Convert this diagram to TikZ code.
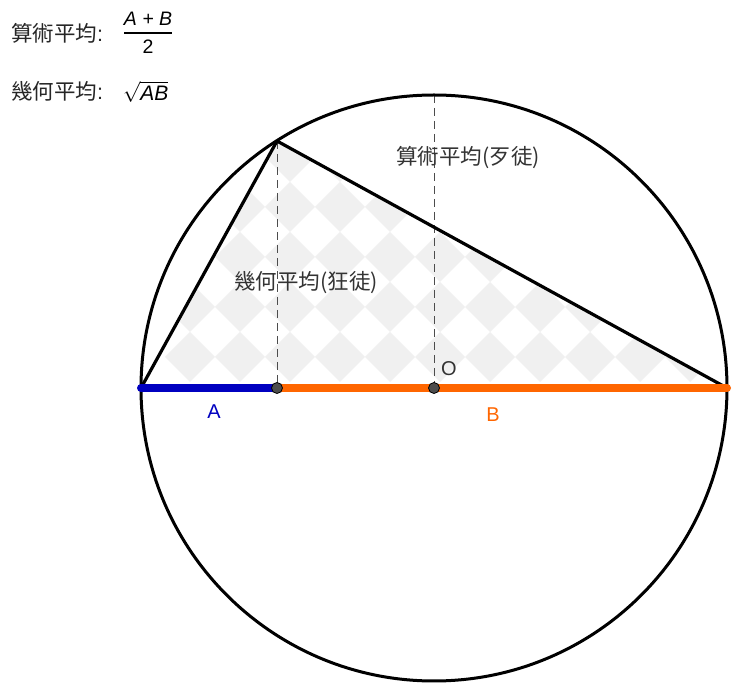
\documentclass[tikz,border=0pt]{standalone}
\usepackage{fontspec}
\setmainfont{Liberation Sans}
\newfontfamily\cjk{Noto Sans CJK TC}
\usepackage{xcolor}
\definecolor{meanblue}{HTML}{0000C0}
\definecolor{meanorange}{HTML}{FF6600}
\definecolor{meandot}{HTML}{4D4D4D}
\definecolor{meanlabel}{HTML}{333333}
\definecolor{meanchecker}{HTML}{F0F0F0}
\usepackage{tikz}
\usetikzlibrary{calc}
\tikzset{
  thinguide/.style={dash pattern=on 8pt off 5pt,line width=1pt,color=black!70},
  bigline/.style={line width=3.2pt,line join=round,line cap=round},
  segline/.style={line width=8pt,line cap=round},
  meanpoint/.style={circle,fill=meandot,draw=black,line width=0.8pt,inner sep=0pt,minimum size=11pt},
  cjklabel/.style={font=\cjk\fontsize{21.5}{24}\selectfont,text=meanlabel,inner sep=0pt},
  latlabel/.style={font=\fontsize{20}{24}\selectfont,inner sep=0pt},
  formula/.style={font=\fontsize{19.5}{22}\selectfont\itshape,inner sep=0pt}
}
\begin{document}
\begin{tikzpicture}[x=1pt,y=-1pt]
    \useasboundingbox (0,0) rectangle (740,692);
    \fill[white] (0,0) rectangle (740,692);
    \coordinate (O) at (434,388);
    \coordinate (L) at (141,388);
    \coordinate (R) at (727,388);
    \coordinate (P) at (277,141);
    \coordinate (F) at (277,388);
    \coordinate (T) at (434,95);
    % checker fill of the triangle
    \begin{scope}
      \clip (L) -- (P) -- (R) -- cycle;
      \foreach \i in {0,...,11}
        \foreach \j in {0,...,5}
          \fill[meanchecker] ($(190+50*\i,357-50*\j)$) +(-25,0) -- +(0,-25) -- +(25,0) -- +(0,25) -- cycle;
    \end{scope}
    % guides
    \draw[thinguide] (P) -- (F);
    \draw[thinguide] (T) -- (O);
    \draw[line width=3pt] (O) circle[radius=293pt];
    \draw[bigline] (L) -- (P) -- (R);
  %   \draw[bigline] (R) -- (L);
    \draw[segline,meanorange] (F) -- (R);
    \draw[segline,meanblue] (L) -- (F);
    \node[meanpoint] (Fdot) at (F) {};
    \node[meanpoint] (Odot) at (O) {};
    \node[latlabel,text=meanlabel] (Olabel) at (449,369) {O};
    \node[latlabel,text=meanblue] (Alabel) at (214,412) {A};
    \node[latlabel,text=meanorange] (Blabel) at (493,415) {B};
    \node[cjklabel] (gmlabel) at (306,283) {幾何平均(狂徒)};
    \node[cjklabel] (amlabel) at (468,158) {算術平均(歹徒)};
    % formulas
    \node[cjklabel,anchor=west,text=black!85] (amtext) at (11,33) {算術平均\rmfamily:};
    \node[cjklabel,anchor=west,text=black!85] (gmtext) at (11,91) {幾何平均\rmfamily:};
    \node[formula] (amnum) at (148,19) {A + B};
    \node[formula,font=\fontsize{19.5}{22}\selectfont] (amden) at (148,47) {2};
    \draw[line width=1.2pt] (124,33) -- (172,33);
    \node[inner sep=0pt,anchor=west,font=\fontsize{21}{24}\selectfont] (gmroot) at (123,92)
      {$\sqrt{\textit{AB}}$};
\end{tikzpicture}
\end{document}
